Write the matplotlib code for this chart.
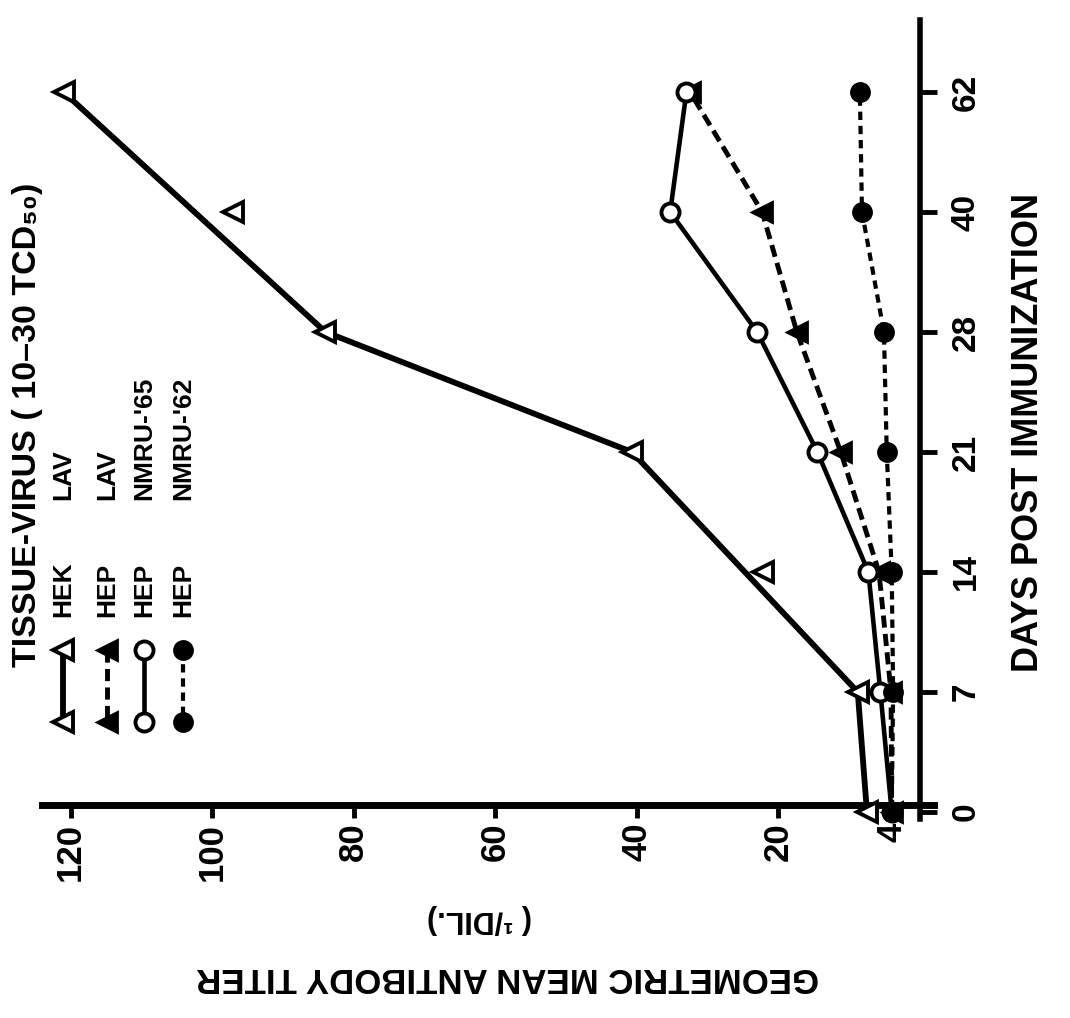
import numpy as np
import matplotlib
matplotlib.use('Agg')
import matplotlib.pyplot as plt

plt.rcParams['font.family'] = ['Liberation Sans', 'DejaVu Sans']
plt.rcParams['font.weight'] = 'bold'

# geometric mean antibody titer (1/dil.) by day post immunization
days = [0, 7, 14, 21, 28, 40, 62]
hek_lav = [7.5, 8.8, 22.2, 40.7, 84.0, 97.0, 121.0]
hep_lav = [4.0, 4.1, 5.8, 11.2, 17.4, 22.3, 32.5]
hep_nmru65 = [4.0, 5.6, 7.3, 14.5, 23.0, 35.3, 33.0]
hep_nmru62 = [4.0, 3.8, 4.0, 4.7, 5.1, 8.2, 8.5]
# the HEK curve is only drawn through these days
hek_line_days = [0, 7, 21, 28, 62]

titer_ticks = [4, 20, 40, 60, 80, 100, 120]

legend_rows = [
    ('HEK', 'LAV'),
    ('HEP', 'LAV'),
    ('HEP', "NMRU-'65"),
    ('HEP', "NMRU-'62"),
]

W, H = 1070, 1018
fig = plt.figure(figsize=(W / 100, H / 100), dpi=100)

# plot is laid on its side: titer runs right-to-left, days run upwards
ax = fig.add_axes([14 / W, (H - 872) / H, (962.5 - 14) / W, 864 / H])
ax.set_xlim(128, -6)
ax.set_ylim(-0.5, 6.7)
ax.patch.set_visible(False)

pos = {d: i for i, d in enumerate(days)}
ypos = [pos[d] for d in days]

styles = {
    'hek': dict(color='k', lw=4.2, ls='-'),
    'hep_lav': dict(color='k', lw=3.5, ls=(0, (2.5, 1.3))),
    'nmru65': dict(color='k', lw=3.3, ls='-'),
    'nmru62': dict(color='k', lw=3.0, ls=(0, (2.0, 1.4))),
}
markers = {
    'hek': dict(marker='<', ms=15, mfc='white', mec='k', mew=2.8),
    'hep_lav': dict(marker='<', ms=15, mfc='k', mec='k', mew=2.0),
    'nmru65': dict(marker='o', ms=13, mfc='white', mec='k', mew=2.8),
    'nmru62': dict(marker='o', ms=13, mfc='k', mec='k', mew=2.0),
}

hek_line = [hek_lav[pos[d]] for d in hek_line_days]
ax.plot(hek_line, [pos[d] for d in hek_line_days], zorder=3, **styles['hek'])
ax.plot(hep_lav, ypos, zorder=3, **styles['hep_lav'])
ax.plot(hep_nmru65, ypos, zorder=3, **styles['nmru65'])
ax.plot(hep_nmru62, ypos, zorder=3, **styles['nmru62'])

ax.plot(hek_lav, ypos, ls='none', zorder=4, **markers['hek'])
ax.plot(hep_lav, ypos, ls='none', zorder=4, **markers['hep_lav'])
ax.plot(hep_nmru65, ypos, ls='none', zorder=4, **markers['nmru65'])
ax.plot(hep_nmru62, ypos, ls='none', zorder=4, **markers['nmru62'])

for s in ['top', 'left']:
    ax.spines[s].set_visible(False)
ax.spines['bottom'].set_position(('data', 0.06))
ax.spines['bottom'].set_bounds(-2, 124)
ax.spines['bottom'].set_linewidth(5)
ax.spines['right'].set_position(('data', 0))
ax.spines['right'].set_bounds(-0.06, 6.6)
ax.spines['right'].set_linewidth(4)

ax.set_xticks(titer_ticks)
ax.set_xticklabels([str(t) for t in titer_ticks])
ax.tick_params(axis='x', direction='out', length=9, width=3.5, pad=4,
               labelsize=25, labelrotation=90)
ax.yaxis.tick_right()
ax.set_yticks(ypos)
ax.set_yticklabels([str(d) for d in days])
ax.tick_params(axis='y', direction='out', length=12, width=3.5, pad=10,
               labelsize=24, labelrotation=90)
for lab in ax.get_yticklabels():
    lab.set_va('center')

fig.text(1029 / W, 1 - 433 / H, 'DAYS POST IMMUNIZATION', rotation=90,
         ha='center', va='center', fontsize=26)
fig.text(508 / W, 1 - 977 / H, 'GEOMETRIC MEAN ANTIBODY TITER', rotation=180,
         ha='center', va='center', fontsize=25)
fig.text(480 / W, 1 - 919 / H, '( ¹/DIL.)', rotation=180,
         ha='center', va='center', fontsize=22)

# legend drawn in pixel space on an overlay
lax = fig.add_axes([0, 0, 1, 1])
lax.set_xlim(0, W)
lax.set_ylim(H, 0)
lax.axis('off')
lax.patch.set_alpha(0)

lax.text(28, 667, 'TISSUE-VIRUS ( 10–30 TCD₅₀)', rotation=90,
         ha='center', va='bottom', fontsize=24.5)
row_x = [63, 107, 144, 183]
keys = ['hek', 'hep_lav', 'nmru65', 'nmru62']
narrow = ['Liberation Sans Narrow', 'Liberation Sans', 'DejaVu Sans']
for x, key, (tissue, virus) in zip(row_x, keys, legend_rows):
    lax.plot([x, x], [650, 722], **styles[key])
    lax.plot([x, x], [650, 722], ls='none', **markers[key])
    lax.text(x, 617, tissue, rotation=90, ha='center', va='bottom',
             fontsize=19, family=narrow)
    lax.text(x, 500, virus, rotation=90, ha='center', va='bottom',
             fontsize=19, family=narrow)

fig.savefig('out.png', dpi=100, facecolor='white')
